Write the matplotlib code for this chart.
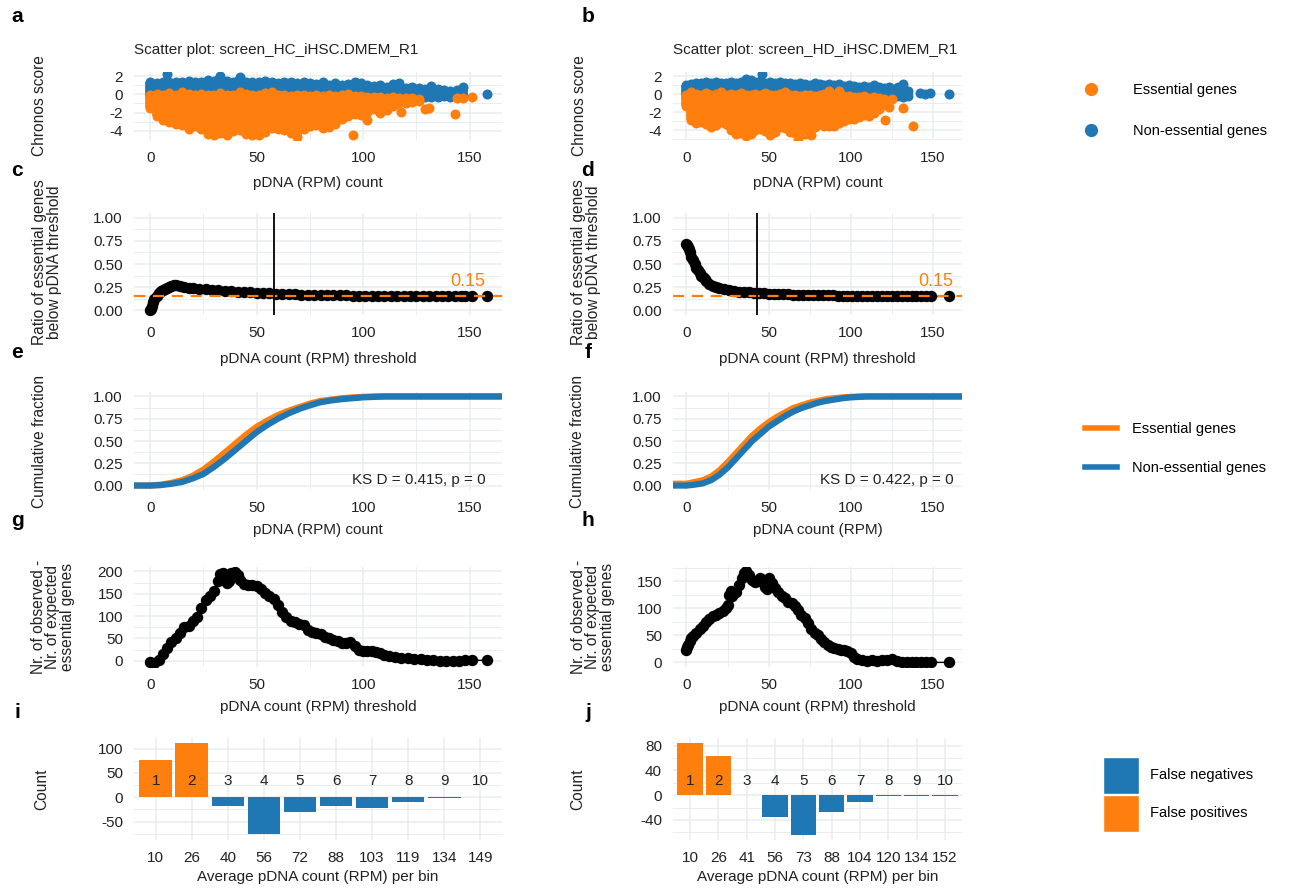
import matplotlib
matplotlib.use("Agg")
import matplotlib.pyplot as plt
from matplotlib.ticker import MultipleLocator, FormatStrFormatter
from matplotlib.lines import Line2D
from matplotlib.patches import Patch

plt.rcParams['font.family'] = ['Liberation Sans', 'DejaVu Sans']
plt.rcParams['axes.unicode_minus'] = False

ORANGE = '#FF7F0E'
BLUE = '#1F77B4'
GRID = '#E9EDEF'
TXT = '#222222'
W, H = 1289, 888

# ---- panel a: scatter (cloud envelopes read per column) ----
a_ne_x = [0, 3, 6, 9, 12, 15, 18, 21, 24, 27, 30, 33, 36, 39, 42, 45, 48, 51, 54, 57, 60, 63, 66, 69, 72,
          75, 78, 81, 84, 87, 90, 93, 96, 99, 102, 105, 108, 111, 114, 117, 120, 123, 126, 129, 132, 135, 138, 141, 144, 147]
a_ne_hi = [1.3, 1.2, 1.3, 1.4, 1.3, 1.4, 1.5, 1.3, 1.4, 1.6, 1.5, 2.0, 1.5, 1.4, 1.9, 1.4, 1.3, 1.4, 1.5, 1.3, 1.2, 1.3, 1.4, 1.2, 1.3,
           1.2, 1.1, 1.3, 1.0, 1.2, 1.0, 1.1, 1.3, 1.2, 1.0, 0.9, 1.0, 0.8, 1.1, 1.2, 0.7, 0.8, 0.7, 0.6, 0.9, 0.6, 0.5, 0.4, 0.5, 0.8]
a_ne_lo = [-0.3, -0.3, -0.3, -0.3, -0.3, -0.3, -0.3, -0.3, -0.3, -0.3, -0.3, -0.3, -0.3, -0.3, -0.3, -0.3, -0.3, -0.3, -0.3, -0.3, -0.3, -0.3, -0.3, -0.3, -0.3,
           -0.3, -0.3, -0.3, -0.3, -0.3, -0.3, -0.3, -0.3, -0.3, -0.3, -0.4, -0.3, -0.4, -0.3, -0.4, -0.3, -0.3, -0.4, -0.3, -0.3, -0.3, -0.2, -0.3, -0.2, -0.2]
a_es_x = [0, 3, 6, 9, 12, 15, 18, 21, 24, 27, 30, 33, 36, 39, 42, 45, 48, 51, 54, 57, 60, 63, 66, 69, 72,
          75, 78, 81, 84, 87, 90, 93, 96, 99, 102, 105, 108, 111, 114, 117, 120, 123, 126]
a_es_lo = [-1.5, -2.4, -2.8, -3.0, -3.2, -3.4, -3.8, -3.5, -3.8, -4.3, -4.5, -4.2, -4.4, -4.0, -3.9, -4.3, -4.5, -4.4, -4.1, -3.7, -3.8, -3.9, -4.2, -4.7, -3.8,
           -3.5, -3.4, -3.7, -3.6, -3.2, -2.7, -2.4, -2.2, -2.3, -1.9, -1.6, -1.5, -1.7, -1.3, -1.0, -0.9, -0.8, -0.7]
a_es_hi = [-0.1, 0.0, -0.1, 0.1, -0.1, 0.2, 0.0, -0.1, 0.0, -0.1, -0.1, 0.1, -0.1, -0.1, 0.2, 0.0, -0.1, -0.1, 0.1, 0.2, -0.1, -0.1, -0.2, -0.1, -0.1,
           -0.2, -0.1, -0.2, -0.1, -0.2, -0.1, 0.0, -0.2, -0.2, -0.3, -0.3, -0.3, -0.4, -0.3, -0.4, -0.4, -0.4, -0.5]
a_ne_out_x = [8, 158]
a_ne_out_y = [2.2, 0.0]
a_es_out_x = [95, 102, 108, 118, 129, 131, 143, 144, 147, 151]
a_es_out_y = [-4.4, -2.8, -2.0, -1.9, -1.6, -1.5, -2.2, -0.4, -0.4, -0.35]

# ---- panel b ----
b_ne_x = [0, 3, 6, 9, 12, 15, 18, 21, 24, 27, 30, 33, 36, 39, 42, 45, 48, 51, 54, 57, 60, 63, 66, 69, 72,
          75, 78, 81, 84, 87, 90, 93, 96, 99, 102, 105, 108, 111, 114, 117, 120, 123, 126, 129, 132, 135]
b_ne_hi = [1.0, 1.1, 1.3, 1.3, 1.4, 1.2, 1.4, 1.3, 1.3, 1.4, 1.2, 1.4, 1.7, 1.6, 1.4, 1.5, 1.3, 1.4, 1.2, 1.4, 1.3, 1.2, 1.1, 1.3, 1.1,
           1.0, 1.2, 1.1, 1.0, 1.1, 1.0, 1.1, 0.9, 1.0, 0.9, 0.8, 0.9, 0.8, 1.0, 0.8, 0.7, 0.8, 0.6, 0.8, 1.1, 0.4]
b_ne_lo = [-0.3, -0.3, -0.3, -0.3, -0.3, -0.3, -0.3, -0.3, -0.3, -0.3, -0.3, -0.3, -0.3, -0.3, -0.3, -0.3, -0.3, -0.3, -0.3, -0.3, -0.3, -0.3, -0.3, -0.3, -0.3,
           -0.3, -0.3, -0.3, -0.3, -0.3, -0.3, -0.3, -0.3, -0.3, -0.4, -0.3, -0.4, -0.3, -0.3, -0.4, -0.3, -0.3, -0.3, -0.2, -0.3, -0.2]
b_es_x = [0, 3, 6, 9, 12, 15, 18, 21, 24, 27, 30, 33, 36, 39, 42, 45, 48, 51, 54, 57, 60, 63, 66, 69, 72,
          75, 78, 81, 84, 87, 90, 93, 96, 99, 102, 105, 108, 111, 114, 117, 120]
b_es_lo = [-1.3, -2.9, -3.2, -3.1, -3.3, -3.7, -3.4, -3.1, -3.3, -4.0, -4.4, -4.3, -4.6, -4.4, -4.0, -3.9, -4.1, -4.5, -4.2, -3.7, -3.8, -4.2, -4.3, -4.0, -4.4,
           -4.1, -3.6, -3.3, -3.5, -3.5, -3.5, -3.2, -3.0, -2.8, -2.8, -2.5, -2.3, -2.4, -2.1, -1.7, -1.2]
b_es_hi = [-0.1, 0.2, 0.0, -0.1, 0.1, -0.1, 0.0, 0.2, -0.1, 0.0, -0.1, 0.1, -0.1, -0.1, 0.0, -0.1, 0.1, -0.1, -0.1, 0.0, 0.2, -0.1, -0.1, -0.2, -0.1,
           -0.1, -0.2, -0.1, 0.0, 0.3, -0.2, 0.4, -0.2, -0.2, -0.3, -0.3, -0.2, -0.4, -0.3, -0.4, -0.5]
b_ne_out_x = [46, 142, 145, 148, 160]
b_ne_out_y = [2.2, 0.1, 0.0, 0.1, 0.0]
b_es_out_x = [68, 76, 121, 123, 125, 132, 138]
b_es_out_y = [-5.1, -4.5, -2.9, -1.4, -0.5, -1.5, -3.5]

# ---- panels c, d: ratio of essential genes below threshold ----
c_x = [0, 0.5, 1, 1.5, 2, 3, 4, 5, 6, 7, 8, 9, 10, 11, 12, 14, 16, 18, 20,
       23, 26, 29, 32, 35, 38, 41, 44, 47, 50, 53, 56, 59, 62, 65, 68, 71, 74, 77, 80,
       83, 86, 89, 92, 95, 98, 101, 104, 107, 110, 113, 116, 119, 122, 125, 128, 131, 134, 137, 140, 143, 146,
       148, 151, 158]
c_y = [0.0, 0.02, 0.05, 0.09, 0.12, 0.16, 0.19, 0.21, 0.22, 0.23, 0.24, 0.25, 0.26, 0.27, 0.27, 0.26, 0.25, 0.245, 0.24,
       0.23, 0.225, 0.22, 0.215, 0.21, 0.205, 0.2, 0.197, 0.194, 0.19, 0.187, 0.184, 0.181, 0.178, 0.175, 0.172, 0.17, 0.168, 0.166, 0.165,
       0.164, 0.163, 0.162, 0.161, 0.16, 0.159, 0.158, 0.157, 0.156, 0.156, 0.155, 0.155, 0.154, 0.154, 0.153, 0.153, 0.152, 0.152, 0.152, 0.151, 0.151, 0.151,
       0.15, 0.15, 0.15]
c_cut = 58.3
d_x = [0, 0.5, 1, 1.5, 2, 3, 4, 5, 6, 7, 8, 9, 10, 11, 12, 14, 16, 18, 20,
       23, 26, 29, 32, 35, 38, 41, 44, 47, 50, 53, 56, 59, 62, 65, 68, 71, 74, 77, 80,
       83, 86, 89, 92, 95, 98, 101, 104, 107, 110, 113, 116, 119, 122, 125, 128, 131, 134, 137, 140, 143, 146,
       149, 160]
d_y = [0.72, 0.70, 0.68, 0.66, 0.63, 0.58, 0.54, 0.50, 0.46, 0.43, 0.40, 0.375, 0.355, 0.335, 0.315, 0.285, 0.265, 0.25, 0.24,
       0.225, 0.215, 0.208, 0.202, 0.197, 0.193, 0.189, 0.186, 0.183, 0.18, 0.178, 0.176, 0.174, 0.172, 0.17, 0.168, 0.167, 0.166, 0.165, 0.164,
       0.163, 0.162, 0.161, 0.16, 0.159, 0.158, 0.157, 0.157, 0.156, 0.156, 0.155, 0.155, 0.154, 0.154, 0.153, 0.153, 0.152, 0.152, 0.152, 0.151, 0.151, 0.151,
       0.15, 0.15]
d_cut = 42.9
expected_ratio = 0.15

# ---- panels e, f: cumulative fraction ----
e_x = [-8, 0, 5, 10, 15, 20, 25, 30, 35, 40, 45, 50, 55, 60, 65, 70, 75, 80, 85, 90, 95, 100, 105, 110, 120, 168]
e_es = [0, 0.0, 0.01, 0.03, 0.06, 0.11, 0.18, 0.27, 0.37, 0.47, 0.57, 0.66, 0.73, 0.79, 0.84, 0.88, 0.92, 0.95, 0.965, 0.98, 0.99, 0.995, 1.0, 1.0, 1.0, 1.0]
e_ne = [0, 0.0, 0.005, 0.02, 0.04, 0.08, 0.13, 0.21, 0.30, 0.40, 0.50, 0.60, 0.68, 0.75, 0.81, 0.86, 0.90, 0.935, 0.955, 0.97, 0.98, 0.99, 0.995, 1.0, 1.0, 1.0]
f_x = [-9, 0, 5, 10, 15, 20, 25, 30, 35, 40, 45, 50, 55, 60, 65, 70, 75, 80, 85, 90, 95, 100, 105, 110, 120, 170]
f_es = [0.02, 0.02, 0.04, 0.06, 0.10, 0.17, 0.26, 0.36, 0.46, 0.56, 0.64, 0.71, 0.77, 0.82, 0.87, 0.90, 0.93, 0.95, 0.97, 0.98, 0.99, 0.995, 1.0, 1.0, 1.0, 1.0]
f_ne = [0, 0.0, 0.01, 0.025, 0.06, 0.12, 0.2, 0.3, 0.4, 0.5, 0.58, 0.66, 0.72, 0.78, 0.83, 0.87, 0.9, 0.93, 0.95, 0.965, 0.98, 0.99, 0.995, 1.0, 1.0, 1.0]
e_ks = "KS D = 0.415, p = 0"
f_ks = "KS D = 0.422, p = 0"

# ---- panels g, h: observed - expected essential genes ----
g_x = [0, 2, 4, 6, 8, 10, 12, 14, 16, 18, 20, 22, 24, 26, 28, 30, 32, 33, 34, 35, 36, 37, 38, 40, 41, 42,
       44, 46, 48, 50, 52, 54, 56, 58, 60, 62, 64, 66, 68, 70, 72, 74, 76, 78, 80, 82,
       84, 86, 88, 90, 92, 94, 96, 98, 100, 102, 104, 106, 108, 110, 112,
       115, 118, 121, 124, 127, 130, 133, 136, 139, 142, 145, 148, 151, 158]
g_y = [-3, -4, 2, 15, 28, 42, 52, 62, 75, 78, 90, 97, 118, 135, 145, 157, 178, 194, 196, 190, 174, 178, 196, 199, 192, 182,
       172, 170, 170, 167, 160, 152, 145, 138, 125, 110, 97, 90, 86, 82, 80, 68, 65, 63, 60, 54,
       50, 46, 44, 40, 40, 41, 33, 24, 22, 22, 21, 19, 17, 13, 11,
       9, 7, 6, 4, 3, 2, 1.5, 0.5, 0, 0, 0.5, 1, 1, 1]
h_x = [0, 0.5, 1, 2, 3, 4, 6, 8, 10, 12, 14, 16, 18, 20, 22, 24, 25, 26, 27, 28, 30, 32, 34, 35, 36, 38, 40, 42, 44,
       45, 46, 48, 49, 50, 52, 54, 56, 58, 60, 62, 64, 66, 68, 70, 72, 74, 76, 78, 80, 82, 84, 86, 88, 90,
       92, 94, 96, 98, 100, 102, 104, 107, 110, 113, 116, 119, 122, 125, 128, 131, 134, 137, 140, 143, 146, 149, 160]
h_y = [22, 28, 32, 40, 45, 48, 55, 62, 68, 74, 80, 85, 88, 91, 95, 100, 105, 125, 132, 122, 130, 143, 155, 165, 168, 162, 152, 148, 150,
       156, 150, 140, 135, 155, 147, 138, 130, 122, 118, 112, 110, 104, 96, 88, 82, 72, 62, 55, 50, 43, 38, 33, 29, 26,
       24, 22, 22, 21, 18, 10, 7, 4, 3, 4, 3, 5, 5, 6, 3, 1, 0, 0, 0, 0, 0, 0, 0]

# ---- panels i, j: false positives / negatives per bin ----
bin_ids = ["1", "2", "3", "4", "5", "6", "7", "8", "9", "10"]
i_bins = ["10", "26", "40", "56", "72", "88", "103", "119", "134", "149"]
i_counts = [77, 112, -17, -75, -31, -19, -23, -9, -2, 1]
i_label_y = 33
j_bins = ["10", "26", "41", "56", "73", "88", "104", "120", "134", "152"]
j_counts = [85, 64, 1, -35, -65, -27, -11, -2, -2, -1]
j_label_y = 23

fig = plt.figure(figsize=(W / 100, H / 100), dpi=100)


def txt(x, y, s, **kw):
    kw.setdefault('color', TXT)
    return fig.text(x / W, 1 - y / H, s, **kw)


def panel(box, xlim, ylim, xmaj, xmin, ymaj, ymin):
    x0, y0, x1, y1 = box
    ax = fig.add_axes([x0 / W, 1 - y1 / H, (x1 - x0) / W, (y1 - y0) / H])
    for s in ax.spines.values():
        s.set_visible(False)
    ax.set_xlim(xlim)
    ax.set_ylim(ylim)
    if xmaj:
        ax.xaxis.set_major_locator(MultipleLocator(xmaj))
        ax.xaxis.set_minor_locator(MultipleLocator(xmin))
    ax.yaxis.set_major_locator(MultipleLocator(ymaj))
    ax.yaxis.set_minor_locator(MultipleLocator(ymin))
    ax.tick_params(which='both', length=0, labelsize=11, labelcolor=TXT, pad=8)
    ax.grid(True, which='major', color=GRID, lw=1.1)
    ax.grid(True, which='minor', color=GRID, lw=0.7)
    ax.set_axisbelow(True)
    return ax


def cloud(ax, xs, lo, hi, color):
    ax.vlines(xs, lo, hi, colors=color, lw=7, zorder=2)
    ax.scatter(xs, lo, s=52, color=color, lw=0, zorder=2)
    ax.scatter(xs, hi, s=52, color=color, lw=0, zorder=2)


LEFT = (134, 502)
RIGHT = (673, 962)
XL_L = (-7.6, 165.2)
XL_R = (-8.2, 167.7)

# a, b scatter
ax = panel((LEFT[0], 72, LEFT[1], 140), XL_L, (-5.0, 2.44), 50, 25, 2, 1)
cloud(ax, a_ne_x, a_ne_lo, a_ne_hi, BLUE)
ax.scatter(a_ne_out_x, a_ne_out_y, s=52, color=BLUE, lw=0, zorder=2)
cloud(ax, a_es_x, a_es_lo, a_es_hi, ORANGE)
ax.scatter(a_es_out_x, a_es_out_y, s=52, color=ORANGE, lw=0, zorder=2)

ax = panel((RIGHT[0], 72, RIGHT[1], 140), XL_R, (-5.1, 2.47), 50, 25, 2, 1)
cloud(ax, b_ne_x, b_ne_lo, b_ne_hi, BLUE)
ax.scatter(b_ne_out_x, b_ne_out_y, s=52, color=BLUE, lw=0, zorder=2)
cloud(ax, b_es_x, b_es_lo, b_es_hi, ORANGE)
ax.scatter(b_es_out_x, b_es_out_y, s=52, color=ORANGE, lw=0, zorder=2)

# c, d ratio
for box, xl, xs, ys, cut, lx in [((LEFT[0], 213, LEFT[1], 315), XL_L, c_x, c_y, c_cut, 149.2),
                                  ((RIGHT[0], 213, RIGHT[1], 315), XL_R, d_x, d_y, d_cut, 151.8)]:
    ax = panel(box, xl, (-0.05, 1.05), 50, 25, 0.25, 0.125)
    ax.yaxis.set_major_formatter(FormatStrFormatter('%.2f'))
    ax.plot(xs, ys, '-', color='black', lw=1, marker='o', ms=7.2, zorder=3)
    ax.axhline(expected_ratio, color=ORANGE, lw=1.6, ls=(0, (5, 3.5)), zorder=4)
    ax.axvline(cut, color='black', lw=1.3, zorder=4)
    ax.text(lx, 0.31, "0.15", color=ORANGE, fontsize=13, ha='center', va='center')

# e, f cumulative
for box, xl, xs, es, ne, ks, kx in [((LEFT[0], 392, LEFT[1], 490), XL_L, e_x, e_es, e_ne, e_ks, 157.6),
                                     ((RIGHT[0], 392, RIGHT[1], 490), XL_R, f_x, f_es, f_ne, f_ks, 162.5)]:
    ax = panel(box, xl, (-0.05, 1.05), 50, 25, 0.25, 0.125)
    ax.yaxis.set_major_formatter(FormatStrFormatter('%.2f'))
    ax.plot(xs, es, color=ORANGE, lw=4.5, solid_capstyle='butt')
    ax.plot(xs, ne, color=BLUE, lw=4.5, solid_capstyle='butt')
    ax.text(kx, 0.06, ks, fontsize=11, color=TXT, ha='right', va='center')

# g, h observed - expected
ax = panel((LEFT[0], 567, LEFT[1], 667), XL_L, (-14, 210), 50, 25, 50, 25)
ax.plot(g_x, g_y, '-', color='black', lw=1, marker='o', ms=7.2)
ax = panel((RIGHT[0], 567, RIGHT[1], 667), XL_R, (-8.5, 176), 50, 25, 50, 25)
ax.plot(h_x, h_y, '-', color='black', lw=1, marker='o', ms=7.2)

# i, j bars
for box, bins, counts, ly, ylim, ym in [((LEFT[0], 738, LEFT[1], 840), i_bins, i_counts, i_label_y, (-88, 122), 50),
                                         ((RIGHT[0], 738, RIGHT[1], 840), j_bins, j_counts, j_label_y, (-72.5, 92.5), 40)]:
    ax = panel(box, (-0.6, 9.6), ylim, None, None, ym, ym / 2)
    pos = list(range(len(bins)))
    ax.set_xticks(pos)
    ax.set_xticklabels(bins)
    ax.bar(pos, counts, width=0.9, color=[ORANGE if v > 0 else BLUE for v in counts], zorder=2)
    for p, lab in zip(pos, bin_ids):
        ax.text(p, ly, lab, ha='center', va='center', fontsize=11, color=TXT, zorder=3)

# titles, axis titles
txt(LEFT[0], 50, "Scatter plot: screen_HC_iHSC.DMEM_R1", fontsize=11, va='center', ha='left')
txt(RIGHT[0], 50, "Scatter plot: screen_HD_iHSC.DMEM_R1", fontsize=11, va='center', ha='left')

xl_kw = dict(fontsize=11, ha='center', va='center')
mid_l = (LEFT[0] + LEFT[1]) / 2
mid_r = (RIGHT[0] + RIGHT[1]) / 2
for y, sl, sr in [(183, "pDNA (RPM) count", "pDNA (RPM) count"),
                  (359, "pDNA count (RPM) threshold", "pDNA count (RPM) threshold"),
                  (530, "pDNA (RPM) count", "pDNA count (RPM)"),
                  (707, "pDNA count (RPM) threshold", "pDNA count (RPM) threshold"),
                  (877, "Average pDNA count (RPM) per bin", "Average pDNA count (RPM) per bin")]:
    txt(mid_l, y, sl, **xl_kw)
    txt(mid_r, y, sr, **xl_kw)

yl_kw = dict(fontsize=11.2, ha='center', va='center', rotation=90, multialignment='center', linespacing=0.95)
txt(40, 106, "Chronos score", **yl_kw)
txt(580, 106, "Chronos score", **yl_kw)
txt(47, 262, "Ratio of essential genes\nbelow pDNA threshold", **yl_kw)
txt(586, 262, "Ratio of essential genes\nbelow pDNA threshold", **yl_kw)
txt(40, 441, "Cumulative fraction", **yl_kw)
txt(578, 441, "Cumulative fraction", **yl_kw)
txt(53, 617, "Nr. of observed -\nNr. of expected\nessential genes", **yl_kw)
txt(593, 617, "Nr. of observed -\nNr. of expected\nessential genes", **yl_kw)
txt(42, 789, "Count", **yl_kw)
txt(578, 789, "Count", **yl_kw)

for lab, x, y in [("a", 17, 17), ("b", 588, 17), ("c", 17, 171), ("d", 588, 171), ("e", 17, 352),
                  ("f", 588, 352), ("g", 17, 520), ("h", 588, 520), ("i", 17, 712), ("j", 588, 712)]:
    txt(x, y, lab, fontsize=15, fontweight='bold', ha='center', va='center', color='black')

# legends
h1 = [Line2D([], [], ls='none', marker='o', ms=8.5, color=ORANGE),
      Line2D([], [], ls='none', marker='o', ms=8.5, color=BLUE)]
fig.legend(h1, ["Essential genes", "Non-essential genes"], loc='upper left',
           bbox_to_anchor=(1076 / W, 1 - 83 / H), frameon=False, fontsize=10.5,
           handlelength=2, handletextpad=1.9, labelspacing=1.85, borderpad=0, borderaxespad=0)
h2 = [Line2D([], [], color=ORANGE, lw=4), Line2D([], [], color=BLUE, lw=4)]
fig.legend(h2, ["Essential genes", "Non-essential genes"], loc='upper left',
           bbox_to_anchor=(1085 / W, 1 - 422 / H), frameon=False, fontsize=10.5,
           handlelength=2.2, handletextpad=1.0, labelspacing=1.7, borderpad=0, borderaxespad=0)
h3 = [Patch(facecolor=BLUE, edgecolor='white'), Patch(facecolor=ORANGE, edgecolor='white')]
fig.legend(h3, ["False negatives", "False positives"], loc='upper left',
           bbox_to_anchor=(1103 / W, 1 - 757 / H), frameon=False, fontsize=10.5,
           handlelength=2.5, handleheight=3.5, handletextpad=0.7, labelspacing=0.07, borderpad=0, borderaxespad=0)

fig.savefig("out.png", dpi=100, facecolor='white')
